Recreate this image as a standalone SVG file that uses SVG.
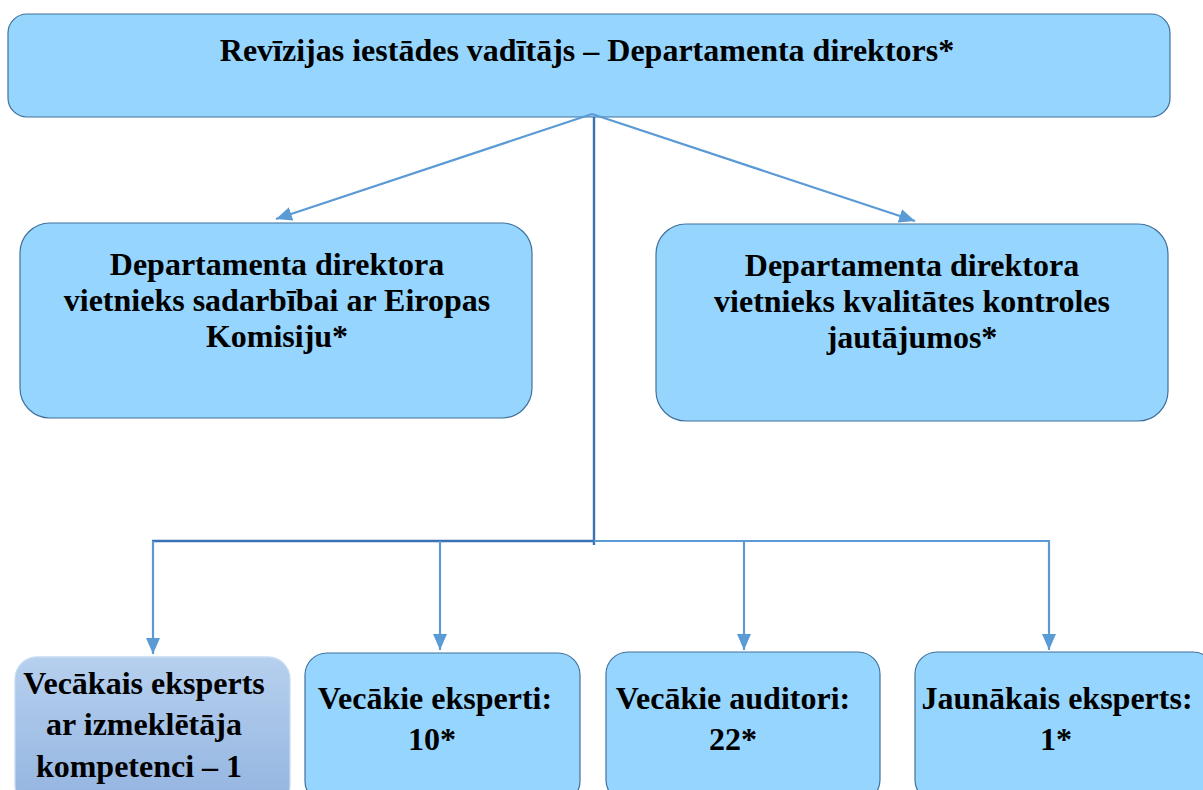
<svg xmlns="http://www.w3.org/2000/svg" width="1203" height="790" viewBox="0 0 1203 790">
<defs>
<style>
.box{fill:#96d6fe;stroke:#41719c;stroke-width:1.2}
.t{font-family:'Liberation Serif',serif;font-weight:bold;fill:#000;text-anchor:middle;font-size:32px}
.c{fill:none;stroke:#5b9bd5;stroke-width:2.2}
.trunk{fill:none;stroke:#3b72b4;stroke-width:2.4}
</style>
<linearGradient id="g1" x1="0" y1="0" x2="0" y2="1">
<stop offset="0" stop-color="#b6d0ee"/>
<stop offset="1" stop-color="#93b4e0"/>
</linearGradient>
<marker id="ah" viewBox="0 0 16 14" refX="16" refY="7" markerWidth="16" markerHeight="14" orient="auto" markerUnits="userSpaceOnUse">
<path d="M0,0 L16,7 L0,14 z" fill="#5b9bd5"/>
</marker>
</defs>
<rect width="1203" height="790" fill="#fff"/>
<g id="n-top">
<rect class="box" x="8" y="14" width="1162" height="103" rx="19"/>
<text class="t" x="587" y="61">Revīzijas iestādes vadītājs – Departamenta direktors*</text>
</g>
<g id="n-left">
<rect class="box" x="20" y="223" width="512" height="195" rx="30"/>
<text class="t" x="277" y="275">Departamenta direktora</text>
<text class="t" x="277" y="311">vietnieks sadarbībai ar Eiropas</text>
<text class="t" x="277" y="347">Komisiju*</text>
</g>
<g id="n-right">
<rect class="box" x="656" y="224" width="512" height="197" rx="30"/>
<text class="t" x="912" y="276">Departamenta direktora</text>
<text class="t" x="912" y="312">vietnieks kvalitātes kontroles</text>
<text class="t" x="912" y="348">jautājumos*</text>
</g>
<g id="n-b1">
<rect x="15" y="657" width="275" height="150" rx="22" fill="url(#g1)" stroke="#c6dcf2" stroke-width="1.3"/>
<text class="t" x="144" y="694">Vecākais eksperts</text>
<text class="t" x="144" y="735">ar izmeklētāja</text>
<text class="t" x="139" y="777">kompetenci – 1</text>
</g>
<g id="n-b2">
<rect class="box" x="305" y="653" width="275" height="150" rx="22"/>
<text class="t" x="435" y="709">Vecākie eksperti:</text>
<text class="t" x="432" y="750">10*</text>
</g>
<g id="n-b3">
<rect class="box" x="606" y="652" width="274" height="150" rx="22"/>
<text class="t" x="733" y="709">Vecākie auditori:</text>
<text class="t" x="733" y="750">22*</text>
</g>
<g id="n-b4">
<rect class="box" x="915" y="652" width="300" height="150" rx="22"/>
<text class="t" x="1057" y="709">Jaunākais eksperts:</text>
<text class="t" x="1056" y="750">1*</text>
</g>
<g id="connectors">
<line class="c" x1="592" y1="114" x2="276" y2="219" marker-end="url(#ah)"/>
<line class="c" x1="592" y1="114" x2="915" y2="221" marker-end="url(#ah)"/>
<line class="trunk" x1="594" y1="117" x2="594" y2="545"/>
<line class="trunk" x1="152" y1="541" x2="594" y2="541"/>
<line class="c" x1="594" y1="541" x2="1050" y2="541"/>
<line class="c" x1="153" y1="541" x2="153" y2="654" marker-end="url(#ah)"/>
<line class="c" x1="440" y1="541" x2="440" y2="650" marker-end="url(#ah)"/>
<line class="c" x1="744" y1="541" x2="744" y2="650" marker-end="url(#ah)"/>
<line class="c" x1="1049" y1="541" x2="1049" y2="650" marker-end="url(#ah)"/>
</g>
</svg>
